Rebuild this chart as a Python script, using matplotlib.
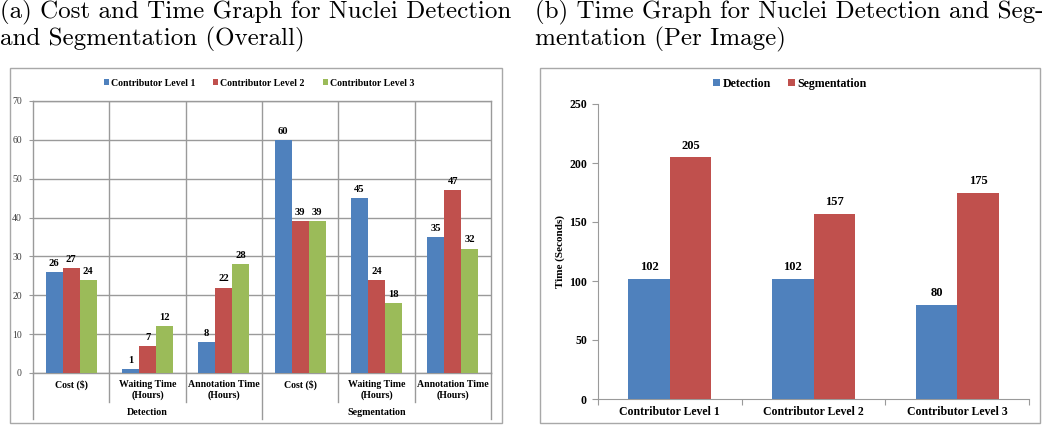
import matplotlib
matplotlib.use("Agg")
import matplotlib.pyplot as plt
import matplotlib.transforms as mtransforms
from matplotlib.patches import Rectangle
import numpy as np

# ---------------- data ----------------
left_categories = ["Cost ($)", "Waiting Time\n(Hours)", "Annotation Time\n(Hours)",
                   "Cost ($)", "Waiting Time\n(Hours)", "Annotation Time\n(Hours)"]
left_groups = ["Detection", "Segmentation"]
left_series = ["Contributor Level 1", "Contributor Level 2", "Contributor Level 3"]
level1 = [26, 1, 8, 60, 45, 35]
level2 = [27, 7, 22, 39, 24, 47]
level3 = [24, 12, 28, 39, 18, 32]
left_yticks = [0, 10, 20, 30, 40, 50, 60, 70]

right_categories = ["Contributor Level 1", "Contributor Level 2", "Contributor Level 3"]
right_series = ["Detection", "Segmentation"]
detection = [102, 102, 80]
segmentation = [205, 157, 175]
right_yticks = [0, 50, 100, 150, 200, 250]

caption_a = "(a) Cost and Time Graph for Nuclei Detection\nand Segmentation (Overall)"
caption_b = "(b) Time Graph for Nuclei Detection and Seg-\nmentation (Per Image)"

colors = ["#4F81BD", "#C0504D", "#9BBB59"]
grid_col = "#9a9a9a"
SERIF = ["Liberation Serif", "DejaVu Serif"]

W, H = 1050, 426
fig = plt.figure(figsize=(W / 100, H / 100), dpi=100)


def px_axes(x0, y0, x1, y1):
    return fig.add_axes([x0 / W, 1 - y1 / H, (x1 - x0) / W, (y1 - y0) / H])


# frames
frames = [(10, 68, 502, 423), (540, 68, 1040, 423)]
for (x0, y0, x1, y1) in frames:
    fig.patches.append(Rectangle((x0 / W, 1 - y1 / H), (x1 - x0) / W, (y1 - y0) / H,
                                 transform=fig.transFigure, fill=False,
                                 edgecolor="#a8a8a8", lw=1.0))

# captions
fig.text(0 / W, 1 - 0 / H, caption_a, family="cmr10", fontsize=18, va="top", ha="left",
         linespacing=1.12)
fig.text(535 / W, 1 - 0 / H, caption_b, family="cmr10", fontsize=18, va="top", ha="left",
         linespacing=1.12)

# ---------------- left chart ----------------
ax1 = px_axes(33, 101, 491, 373)
n = len(left_categories)
x = np.arange(n)
bw = 0.223
for i, (vals, c, lab) in enumerate(zip([level1, level2, level3], colors, left_series)):
    bars = ax1.bar(x + (i - 1) * bw, vals, bw, color=c, label=lab, zorder=3)
    ax1.bar_label(bars, padding=3, fontsize=7.6, fontweight="bold", family=SERIF)
ax1.set_xlim(-0.5, n - 0.5)
ax1.set_ylim(0, 70)
ax1.set_yticks(left_yticks)
ax1.set_yticklabels([str(v) for v in left_yticks], family=SERIF, fontsize=7, color="#404040")
ax1.yaxis.grid(True, color=grid_col, lw=1.0, zorder=0)
for b in np.arange(0.5, n - 0.5, 1):
    ax1.axvline(b, color=grid_col, lw=1.0, zorder=0)
for s in ax1.spines.values():
    s.set_color(grid_col)
    s.set_linewidth(1.0)
ax1.tick_params(axis="y", length=3, color=grid_col, pad=5)
ax1.set_xticks([])

trans = mtransforms.blended_transform_factory(ax1.transData, ax1.transAxes)
ax_h = 373 - 101
for b in [0.5, 1.5, 3.5, 4.5]:
    ax1.plot([b, b], [0, -29 / ax_h], transform=trans, color=grid_col, lw=1.0, clip_on=False)
for b in [-0.5, 2.5, 5.5]:
    ax1.plot([b, b], [0, -46 / ax_h], transform=trans, color=grid_col, lw=1.0, clip_on=False)
for i, lab in enumerate(left_categories):
    ax1.text(i, -7 / ax_h, lab, transform=trans, ha="center", va="top", fontsize=7.1,
             fontweight="bold", family=SERIF, linespacing=1.25)
for g, lab in enumerate(left_groups):
    ax1.text(1 + 3 * g, -35 / ax_h, lab, transform=trans, ha="center", va="top", fontsize=7.2,
             fontweight="bold", family=SERIF)

fcx1 = (frames[0][0] + frames[0][2]) / 2
ax1.legend(loc="center", bbox_to_anchor=((fcx1 + 3) / W, 1 - 83 / H),
           bbox_transform=fig.transFigure, ncol=3, frameon=False,
           prop={"family": SERIF, "weight": "bold", "size": 7.1},
           handlelength=0.55, handleheight=0.55, handletextpad=0.2, columnspacing=1.8)

# ---------------- right chart ----------------
ax2 = px_axes(598, 104, 1029, 399)
m = len(right_categories)
xr = np.arange(m)
bw2 = 0.289
for i, (vals, c, lab) in enumerate(zip([detection, segmentation], colors[:2], right_series)):
    bars = ax2.bar(xr + (i - 0.5) * bw2, vals, bw2, color=c, label=lab, zorder=3)
    ax2.bar_label(bars, padding=4, fontsize=9, fontweight="bold", family=SERIF)
ax2.set_xlim(-0.5, m - 0.5)
ax2.set_ylim(0, 250)
ax2.set_yticks(right_yticks)
ax2.set_yticklabels([str(v) for v in right_yticks], family=SERIF, fontsize=8.5,
                    fontweight="bold")
ax2.set_xticks(np.arange(-0.5, m, 1))
ax2.set_xticklabels([])
ax2.set_xticks(xr, minor=True)
ax2.set_xticklabels(right_categories, minor=True, family=SERIF, fontsize=8.5,
                    fontweight="bold")
ax2.tick_params(axis="x", which="minor", length=0, pad=5)
ax2.tick_params(axis="x", which="major", length=4, color=grid_col)
ax2.tick_params(axis="y", length=4, color=grid_col, pad=4)
for s in ["top", "right"]:
    ax2.spines[s].set_visible(False)
for s in ["left", "bottom"]:
    ax2.spines[s].set_color(grid_col)
ax2.set_ylabel("Time (Seconds)", family=SERIF, fontsize=8, fontweight="bold", labelpad=3)
fcx2 = (frames[1][0] + frames[1][2]) / 2
ax2.legend(loc="center", bbox_to_anchor=(fcx2 / W, 1 - 84 / H),
           bbox_transform=fig.transFigure, ncol=2, frameon=False,
           prop={"family": SERIF, "weight": "bold", "size": 8.6},
           handlelength=0.55, handleheight=0.55, handletextpad=0.2, columnspacing=1.5)

fig.savefig("out.png", dpi=100)
